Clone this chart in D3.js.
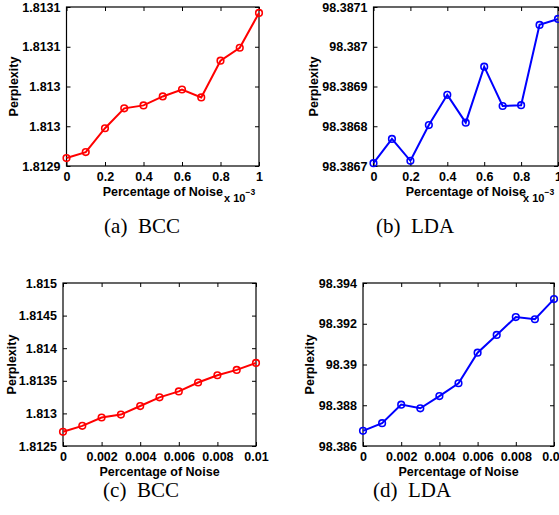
<!DOCTYPE html>
<html>
<head>
<meta charset="utf-8">
<script src="https://cdn.jsdelivr.net/npm/d3@7"></script>
<style>
  body { margin: 0; background: #fff; }
  svg { display: block; }
  .tick text, .lbl { font-family: "Liberation Sans", Arial, sans-serif; font-weight: bold; font-size: 12.5px; fill: #000; }
  .cap { font-family: "Liberation Serif", "Times New Roman", serif; font-size: 21px; fill: #000; }
</style>
</head>
<body>
<svg id="fig" width="559" height="515"></svg>
<script>
// ---------------- data ----------------
var noiseSmall = [0, 0.0001, 0.0002, 0.0003, 0.0004, 0.0005, 0.0006, 0.0007, 0.0008, 0.0009, 0.001];
var noiseLarge = [0, 0.001, 0.002, 0.003, 0.004, 0.005, 0.006, 0.007, 0.008, 0.009, 0.01];

var bccSmall = [1.812948, 1.812954, 1.812978, 1.812998, 1.813001, 1.813010, 1.813017, 1.813009, 1.813046, 1.813059, 1.813094];
var ldaSmall = [98.386707, 98.386768, 98.386713, 98.386803, 98.386879, 98.386809, 98.386950, 98.386851, 98.386853, 98.387055, 98.387070];
var bccLarge = [1.812718, 1.812809, 1.812937, 1.812982, 1.813113, 1.813246, 1.813337, 1.813474, 1.813585, 1.813667, 1.813774];
var ldaLarge = [98.386745, 98.38712, 98.38803, 98.38785, 98.38845, 98.38908, 98.39058, 98.39145, 98.39233, 98.39222, 98.39321];

var xTicksSmall = [0, 0.0002, 0.0004, 0.0006, 0.0008, 0.001];
var xTicksLarge = [0, 0.002, 0.004, 0.006, 0.008, 0.01];
var yTicksA = [1.81294, 1.81298, 1.81302, 1.81306, 1.8131];
var yTicksB = [98.3867, 98.3868, 98.3869, 98.387, 98.3871];
var yTicksC = [1.8125, 1.813, 1.8135, 1.814, 1.8145, 1.815];
var yTicksD = [98.386, 98.388, 98.39, 98.392, 98.394];

var captions = ["(a)\u00a0\u00a0BCC", "(b)\u00a0\u00a0LDA", "(c)\u00a0\u00a0BCC", "(d)\u00a0\u00a0LDA"];

// ---------------- draw ----------------
var svg = d3.select('#fig');

function panel(o) {
  var g = svg.append('g');
  var x = d3.scaleLinear().domain(d3.extent(o.xt)).range([o.x0, o.x1]);
  var y = d3.scaleLinear().domain(d3.extent(o.yt)).range([o.y1, o.y0]);
  var fx = o.small ? function(d){ return d3.format('~g')(+(d * 1000).toFixed(3)); } : d3.format('~g');
  var fy = d3.format('.4~f');
  if (!o.small) fy = function(d){ return d3.format('~g')(+d.toFixed(6)); };

  // inward ticks on all four sides (matlab box)
  var tl = 4;
  g.append('g').attr('transform', 'translate(0,' + o.y1 + ')')
    .call(d3.axisBottom(x).tickValues(o.xt).tickSize(-tl).tickPadding(tl + 2).tickFormat(fx));
  g.append('g').attr('transform', 'translate(0,' + o.y0 + ')')
    .call(d3.axisTop(x).tickValues(o.xt).tickSize(-tl).tickFormat(''));
  g.append('g').attr('transform', 'translate(' + o.x0 + ',0)')
    .call(d3.axisLeft(y).tickValues(o.yt).tickSize(-tl).tickPadding(tl + 2).tickFormat(fy));
  g.append('g').attr('transform', 'translate(' + o.x1 + ',0)')
    .call(d3.axisRight(y).tickValues(o.yt).tickSize(-tl).tickFormat(''));
  g.selectAll('.domain').remove();
  g.selectAll('.tick line').attr('stroke', '#000');

  g.append('rect').attr('x', o.x0).attr('y', o.y0).attr('width', o.x1 - o.x0).attr('height', o.y1 - o.y0)
    .attr('fill', 'none').attr('stroke', '#000').attr('stroke-width', 1.2);

  var line = d3.line().x(function(d, i){ return x(o.xs[i]); }).y(function(d){ return y(d); });
  g.append('path').datum(o.ys).attr('d', line).attr('fill', 'none').attr('stroke', o.color).attr('stroke-width', 2);
  g.selectAll('circle.m').data(o.ys).enter().append('circle')
    .attr('cx', function(d, i){ return x(o.xs[i]); }).attr('cy', function(d){ return y(d); })
    .attr('r', 3.3).attr('fill', 'none').attr('stroke', o.color).attr('stroke-width', 1.6);

  var cx = (o.x0 + o.x1) / 2;
  g.append('text').attr('class', 'lbl').attr('x', cx).attr('y', o.y1 + 30).attr('text-anchor', 'middle').text('Percentage of Noise');
  g.append('text').attr('class', 'lbl').attr('transform', 'translate(' + o.ylx + ',' + ((o.y0 + o.y1) / 2) + ') rotate(-90)')
    .attr('text-anchor', 'middle').text('Perplexity');
  if (o.small) {
    var t = g.append('text').attr('class', 'lbl').attr('x', o.x1 - 35).attr('y', o.y1 + 36).style('font-size', '11px');
    t.append('tspan').text('x 10');
    t.append('tspan').attr('dy', -7).style('font-size', '8.5px').text('\u22123');
  }
  g.append('text').attr('class', 'cap').attr('x', o.capx).attr('y', o.capy).attr('text-anchor', 'middle').text(o.cap);
}

panel({ x0: 66.5, x1: 259, y0: 7, y1: 166, xs: noiseSmall, ys: bccSmall, xt: xTicksSmall, yt: yTicksA,
  color: '#ff0000', small: true, ylx: 18, cap: captions[0], capx: 142, capy: 233 });
panel({ x0: 373.5, x1: 558, y0: 7, y1: 166, xs: noiseSmall, ys: ldaSmall, xt: xTicksSmall, yt: yTicksB,
  color: '#0000ff', small: true, ylx: 318, cap: captions[1], capx: 415, capy: 233 });
panel({ x0: 63, x1: 256, y0: 283, y1: 446, xs: noiseLarge, ys: bccLarge, xt: xTicksLarge, yt: yTicksC,
  color: '#ff0000', small: false, ylx: 16, cap: captions[2], capx: 141, capy: 497 });
panel({ x0: 363, x1: 554, y0: 283, y1: 446, xs: noiseLarge, ys: ldaLarge, xt: xTicksLarge, yt: yTicksD,
  color: '#0000ff', small: false, ylx: 314, cap: captions[3], capx: 412, capy: 497 });
</script>
</body>
</html>
